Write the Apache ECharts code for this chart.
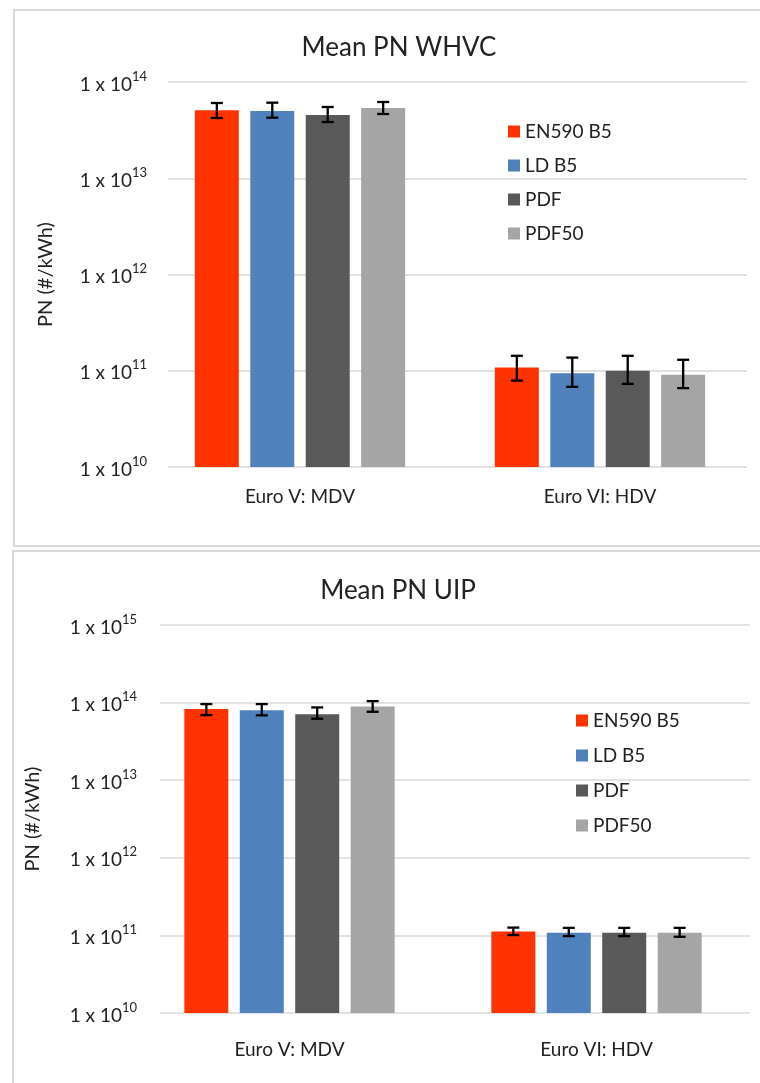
<!DOCTYPE html>
<html>
<head>
<meta charset="utf-8">
<script src="https://cdn.jsdelivr.net/npm/echarts@6/dist/echarts.min.js"></script>
<style>
html,body{margin:0;padding:0;background:#fff;}
#c{width:760px;height:1083px;}
</style>
</head>
<body>
<div id="c"></div>
<script>
// ---- data ----
const categories = ['Euro V: MDV', 'Euro VI: HDV'];
const seriesNames = ['EN590 B5', 'LD B5', 'PDF', 'PDF50'];
const colors = ['#FF3300', '#4F81BD', '#595959', '#A5A5A5'];

// Mean PN WHVC (per series: [MDV, HDV])
const whvcMean = [[5.1e13, 1.08e11], [5.0e13, 9.4e10], [4.55e13, 1.0e11], [5.37e13, 9.1e10]];
const whvcLow  = [[4.23e13, 7.9e10], [4.26e13, 6.8e10], [3.84e13, 7.3e10], [4.65e13, 6.6e10]];
const whvcHigh = [[6.05e13, 1.43e11], [6.1e13, 1.37e11], [5.5e13, 1.43e11], [6.2e13, 1.30e11]];

// Mean PN UIP
const uipMean = [[8.25e13, 1.12e11], [7.94e13, 1.08e11], [7.1e13, 1.08e11], [8.93e13, 1.08e11]];
const uipLow  = [[6.9e13, 1.01e11], [6.85e13, 9.8e10], [6.19e13, 9.8e10], [7.62e13, 9.6e10]];
const uipHigh = [[9.57e13, 1.26e11], [9.57e13, 1.25e11], [8.67e13, 1.25e11], [1.045e14, 1.25e11]];

const whvcRange = [1e10, 1e14];
const uipRange = [1e10, 1e15];

// ---- chart ----
const FONT = 'Lato';
const TXT = '#222222';
const BAR_W = 44;
const BAR_GAP = 0.26;

const chart = echarts.init(document.getElementById('c'), null, {renderer: 'canvas'});

function tickFmt(v) {
  const e = Math.round(Math.log10(v));
  return '{b|1 x 10}{s|' + e + '}';
}
const tickRich = {
  b: {fontSize: 19, fontFamily: FONT, color: TXT, lineHeight: 24, verticalAlign: 'bottom'},
  s: {fontSize: 13, fontFamily: FONT, color: TXT, lineHeight: 24, verticalAlign: 'top'}
};

const grids = [
  {left: 150, width: 600, top: 82, height: 385},   // 0 bars WHVC
  {left: 168, width: 579, top: 82, height: 385},   // 1 gridlines WHVC
  {left: 136, width: 614, top: 625, height: 388},  // 2 bars UIP
  {left: 160, width: 590, top: 625, height: 388}   // 3 gridlines UIP
];

const xLabel = {fontSize: 19, fontFamily: FONT, color: TXT};
const xAxes = [
  {gridIndex: 0, type: 'category', data: categories,
   axisLine: {show: false}, axisTick: {show: false},
   axisLabel: Object.assign({margin: 20}, xLabel)},
  {gridIndex: 1, type: 'category', data: categories, show: false},
  {gridIndex: 2, type: 'category', data: categories,
   axisLine: {show: false}, axisTick: {show: false},
   axisLabel: Object.assign({margin: 27}, xLabel)},
  {gridIndex: 3, type: 'category', data: categories, show: false}
];

const nameStyle = {fontSize: 20, fontFamily: FONT, color: TXT};
const yAxes = [
  {gridIndex: 0, type: 'log', logBase: 10, min: whvcRange[0], max: whvcRange[1], show: false, splitLine: {show: false}},
  {gridIndex: 1, type: 'log', logBase: 10, min: whvcRange[0], max: whvcRange[1],
   name: 'PN (#/kWh)', nameLocation: 'middle', nameGap: 112, nameTextStyle: nameStyle,
   axisLine: {show: false}, axisTick: {show: false},
   axisLabel: {formatter: tickFmt, rich: tickRich, margin: 21},
   splitLine: {show: true, lineStyle: {color: '#D9D9D9', width: 1.5}}},
  {gridIndex: 2, type: 'log', logBase: 10, min: uipRange[0], max: uipRange[1], show: false, splitLine: {show: false}},
  {gridIndex: 3, type: 'log', logBase: 10, min: uipRange[0], max: uipRange[1],
   name: 'PN (#/kWh)', nameLocation: 'middle', nameGap: 117, nameTextStyle: nameStyle,
   axisLine: {show: false}, axisTick: {show: false},
   axisLabel: {formatter: tickFmt, rich: tickRich, margin: 23},
   splitLine: {show: true, lineStyle: {color: '#D9D9D9', width: 1.5}}}
];

const series = [];
function addPanel(means, lows, highs, axisIdx) {
  means.forEach((vals, si) => {
    series.push({
      name: seriesNames[si], type: 'bar', xAxisIndex: axisIdx, yAxisIndex: axisIdx,
      data: vals, barWidth: BAR_W, barGap: (BAR_GAP * 100) + '%',
      itemStyle: {color: colors[si]}, z: 2
    });
  });
  means.forEach((vals, si) => {
    const offset = (si - (means.length - 1) / 2) * BAR_W * (1 + BAR_GAP);
    series.push({
      name: 'err' + axisIdx + '_' + si, type: 'custom', xAxisIndex: axisIdx, yAxisIndex: axisIdx,
      data: categories.map((c, i) => [i, lows[si][i], highs[si][i]]),
      encode: {x: 0, y: [1, 2]}, z: 5, silent: true,
      renderItem: function (params, api) {
        const pLo = api.coord([api.value(0), api.value(1)]);
        const pHi = api.coord([api.value(0), api.value(2)]);
        const x = pLo[0] + offset;
        const cap = 6;
        const st = {stroke: '#000', lineWidth: 2.3};
        return {type: 'group', children: [
          {type: 'line', shape: {x1: x, y1: pLo[1], x2: x, y2: pHi[1]}, style: st},
          {type: 'line', shape: {x1: x - cap, y1: pLo[1], x2: x + cap, y2: pLo[1]}, style: st},
          {type: 'line', shape: {x1: x - cap, y1: pHi[1], x2: x + cap, y2: pHi[1]}, style: st}
        ]};
      }
    });
  });
}
addPanel(whvcMean, whvcLow, whvcHigh, 0);
addPanel(uipMean, uipLow, uipHigh, 2);

const legendCommon = {
  orient: 'vertical', icon: 'rect', itemWidth: 12, itemHeight: 12,
  data: seriesNames, selectedMode: false,
  textStyle: {fontSize: 19, fontFamily: FONT, color: TXT}
};

const option = {
  animation: false,
  backgroundColor: '#fff',
  title: [
    {text: 'Mean PN WHVC', left: 394, top: 30, textAlign: 'center',
     textStyle: {fontSize: 26, fontWeight: 'normal', fontFamily: FONT, color: TXT}},
    {text: 'Mean PN UIP', left: 393, top: 573, textAlign: 'center',
     textStyle: {fontSize: 26, fontWeight: 'normal', fontFamily: FONT, color: TXT}}
  ],
  legend: [
    Object.assign({left: 503, top: 117, itemGap: 15}, legendCommon),
    Object.assign({left: 571, top: 706, itemGap: 16}, legendCommon)
  ],
  graphic: [
    {type: 'rect', shape: {x: 14, y: 10, width: 770, height: 536}, style: {fill: 'none', stroke: '#D9D9D9', lineWidth: 2}, silent: true},
    {type: 'rect', shape: {x: 13, y: 551, width: 770, height: 560}, style: {fill: 'none', stroke: '#D9D9D9', lineWidth: 2}, silent: true}
  ],
  grid: grids,
  xAxis: xAxes,
  yAxis: yAxes,
  series: series
};
chart.setOption(option);
</script>
</body>
</html>
